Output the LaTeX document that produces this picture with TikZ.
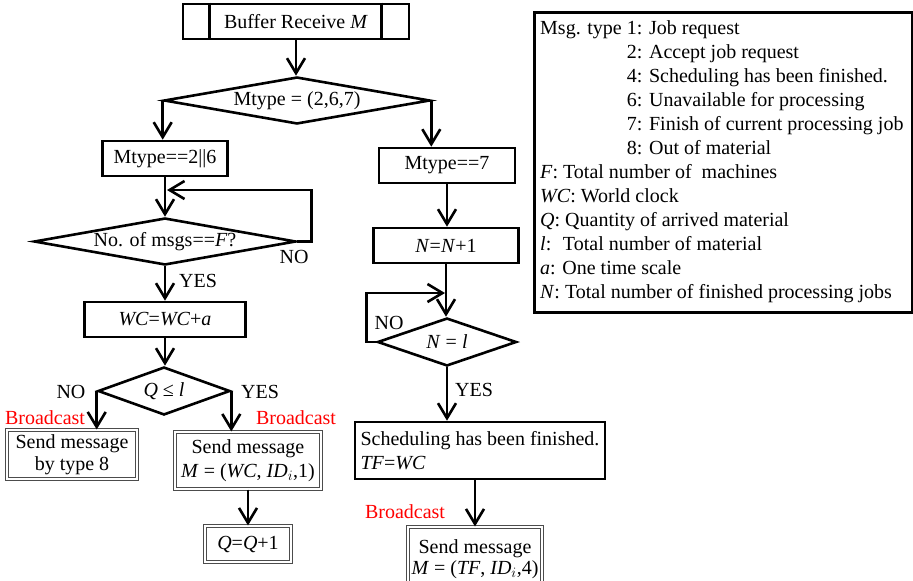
\documentclass[tikz,border=0pt]{standalone}
\usepackage{fontspec}
\setmainfont{Liberation Serif}
\usetikzlibrary{shapes.geometric,arrows.meta}
\begin{document}
\begin{tikzpicture}[x=1pt,y=-1pt,
  font=\fontsize{20}{24}\selectfont,
  box/.style={draw, line width=2.6pt, inner sep=0pt, align=center},
  dbox/.style={draw=black!70, double=white, double distance=1.8pt, line width=1.1pt, inner sep=0pt, align=center},
  dia/.style={draw, diamond, line width=2.6pt, inner sep=0pt},
  arr/.style={line width=2.6pt, -{Straight Barb[length=15pt,width=18pt]}},
  lin/.style={line width=2.6pt},
  lbl/.style={inner sep=0pt},
  bc/.style={text=red, inner sep=0pt},
  leg/.style={inner sep=0pt, anchor=base west}
]
\useasboundingbox (0,0) rectangle (913,581);

% top
\node[box, minimum width=226pt, minimum height=35pt] (buf) at (296,21.5) {Buffer Receive \textit{M}};
\draw[lin] ([xshift=28pt]buf.north west) -- ([xshift=28pt]buf.south west);
\draw[lin] ([xshift=-29pt]buf.north east) -- ([xshift=-29pt]buf.south east);

\node[dia, minimum width=266pt, minimum height=47pt, aspect=5.66] (d1) at (297,100.5) {Mtype = (2,6,7)};

% left column
\node[box, minimum width=125pt, minimum height=35pt] (b1) at (165,158.5) {Mtype==2||6};
\node[dia, minimum width=262pt, minimum height=47pt, aspect=5.57] (d2) at (165,241.5) {No. of msgs==\textit{F}?};
\node[box, minimum width=161pt, minimum height=35pt] (b4) at (165,319.5) {\textit{WC}=\textit{WC}+\textit{a}};
\node[dia, minimum width=132pt, minimum height=48pt, aspect=2.75] (d3) at (164,391) {\textit{Q} ≤ \textit{l}};
\node[dbox, minimum width=130pt, minimum height=49pt] (b5) at (72,454.5) {Send message\\[-2pt]by type 8};
\node[dbox, minimum width=146pt, minimum height=57pt] (b6) at (248,460.5) {Send message\\\textit{M} = (\textit{WC}, \textit{ID}$_i$,1)};
\node[dbox, minimum width=86pt, minimum height=36pt] (b7) at (248,544) {\textit{Q}=\textit{Q}+1};

% right column
\node[box, minimum width=136pt, minimum height=35pt] (b2) at (447,165.5) {Mtype==7};
\node[box, minimum width=145pt, minimum height=35pt] (b3) at (446,245.5) {\textit{N}=\textit{N}+1};
\node[dia, minimum width=139pt, minimum height=48pt, aspect=2.9] (d4) at (447,342) {\textit{N} = \textit{l}};
\node[box, minimum width=250pt, minimum height=57pt, align=left] (b8) at (480,450.5) {Scheduling has been finished.\\\textit{TF}=\textit{WC}};
\node[dbox, minimum width=134pt, minimum height=64pt] (b9) at (475,559) {Send message\\[-3pt]\textit{M} = (\textit{TF}, \textit{ID}$_i$,4)};

% connectors
\draw[arr] (buf.south) -- (buf.south |- d1.north);
\draw[arr] (d1.west) -- (d1.west |- b1.north);
\draw[arr] (d1.east) -- (d1.east |- b2.north);
\draw[arr] (b1.south) -- (d2.north);
\coordinate (lp1) at (167,190);
\draw[arr] (d2.east) -- ++(14,0) |- (lp1);
\draw[arr] (d2.south) -- (b4.north);
\draw[arr] (b4.south) -- (b4.south |- d3.north);
\draw[arr] (d3.west) -- (d3.west |- b5.north);
\draw[arr] (d3.east) -- (d3.east |- b6.north);
\draw[arr] (b6.south) -- (b7.north);

\draw[arr] (b2.south) -- (b2.south |- b3.north);
\draw[arr] (b3.south) -- (b3.south |- d4.north);
\coordinate (lp2) at (445,293);
\draw[arr] (d4.west) -- ++(-10,0) |- (lp2);
\draw[arr] (d4.south) -- (d4.south |- b8.north);
\draw[arr] (b9.north |- b8.south) -- (b9.north);

% labels
\node[lbl] (l1) at (198,281) {YES};
\node[lbl] (l2) at (294,257) {NO};
\node[lbl] (l3) at (71,392) {NO};
\node[lbl] (l4) at (260,392) {YES};
\node[lbl] (l5) at (389,323) {NO};
\node[lbl] (l6) at (474,390) {YES};
\node[bc] (r1) at (45,418) {Broadcast};
\node[bc] (r2) at (296,418) {Broadcast};
\node[bc] (r3) at (405,512) {Broadcast};

% legend
\node[draw, line width=2.6pt, minimum width=378pt, minimum height=300pt, anchor=north west, inner sep=0pt] (lg) at (533,11) {};
\node[leg] (g1) at (540,34) {Msg. type 1: Job request};
\node[leg] (g2) at (540,58) {\phantom{Msg. type }2: Accept job request};
\node[leg] (g3) at (540,82) {\phantom{Msg. type }4: Scheduling has been finished.};
\node[leg] (g4) at (540,106) {\phantom{Msg. type }6: Unavailable for processing};
\node[leg] (g5) at (540,130) {\phantom{Msg. type }7: Finish of current processing job};
\node[leg] (g6) at (540,154) {\phantom{Msg. type }8: Out of material};
\node[leg] (g7) at (540,178) {\textit{F}: Total number of~ machines};
\node[leg] (g8) at (540,202) {\textit{WC}: World clock};
\node[leg] (g9) at (540,226) {\textit{Q}: Quantity of arrived material};
\node[leg] (g10) at (540,250) {\textit{l}:~ Total number of material};
\node[leg] (g11) at (540,274) {\textit{a}: One time scale};
\node[leg] (g12) at (540,298) {\textit{N}: Total number of finished processing jobs};
\end{tikzpicture}
\end{document}
